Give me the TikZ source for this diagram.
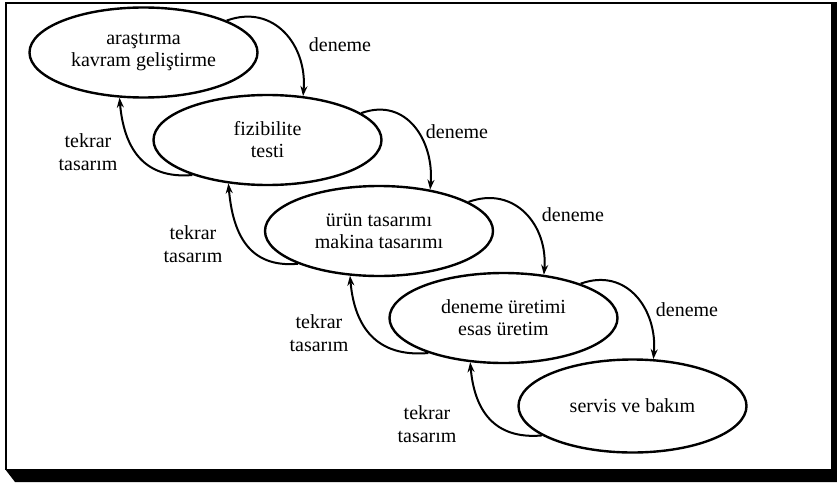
\documentclass[tikz,border=0pt]{standalone}
\usepackage{fontspec}
\setmainfont{Liberation Serif}
\usetikzlibrary{shapes.geometric,arrows.meta}
\begin{document}
\begin{tikzpicture}[x=1pt,y=1pt,
  stage/.style={draw, ellipse, line width=2.4pt, minimum width=228pt, minimum height=90pt,
    inner sep=0pt, align=center, font=\fontsize{20}{22}\selectfont},
  lbl/.style={align=center, inner sep=0pt, font=\fontsize{20}{23}\selectfont},
  flow/.style={line width=2pt, -{Stealth[length=10pt,width=7pt]}},
  deneme/.style={flow, out=20, in=85, looseness=1.2},
  tekrar/.style={flow, out=185, in=275, looseness=1.2},
]
\useasboundingbox (0,0) rectangle (837,-484);
% frame with shadow
\fill[black] (5,-469) -- (837,-469) -- (837,-482) -- (15,-482) -- cycle;
\fill[black] (831,-2) rectangle (837,-482);
\draw[line width=2.5pt] (5,-3) -- (832,-3);
\draw[line width=2pt] (6,-3) -- (6,-470);

% stages
\node[stage] (e1) at (143.5,-52.5) {araştırma\\kavram geliştirme};
\node[stage] (e2) at (267.5,-140) {fizibilite\\testi};
\node[stage] (e3) at (379,-231) {ürün tasarımı\\makina tasarımı};
\node[stage] (e4) at (503.5,-318) {deneme üretimi\\esas üretim};
\node[stage, minimum height=93pt] (e5) at (632.5,-406) {servis ve bakım};

% deneme arrows
\draw[deneme] (e1.21) to (e2.51);
\draw[deneme] (e2.16) to (e3.39);
\draw[deneme] (e3.18) to (e4.47);
\draw[deneme] (e4.24) to (e5.66);

% tekrar tasarim arrows
\draw[tekrar] (e2.205) to (e1.242);
\draw[tekrar] (e3.202) to (e2.228);
\draw[tekrar] (e4.205) to (e3.237);
\draw[tekrar] (e5.198) to (e4.233);

% labels
\node[lbl] (d1) at (340,-45) {deneme};
\node[lbl] (d2) at (457,-132) {deneme};
\node[lbl] (d3) at (573,-215) {deneme};
\node[lbl] (d4) at (687,-310) {deneme};
\node[lbl] (t1) at (88,-152) {tekrar\\tasarım};
\node[lbl] (t2) at (193,-244) {tekrar\\tasarım};
\node[lbl] (t3) at (319,-333) {tekrar\\tasarım};
\node[lbl] (t4) at (427,-424) {tekrar\\tasarım};
\end{tikzpicture}
\end{document}
